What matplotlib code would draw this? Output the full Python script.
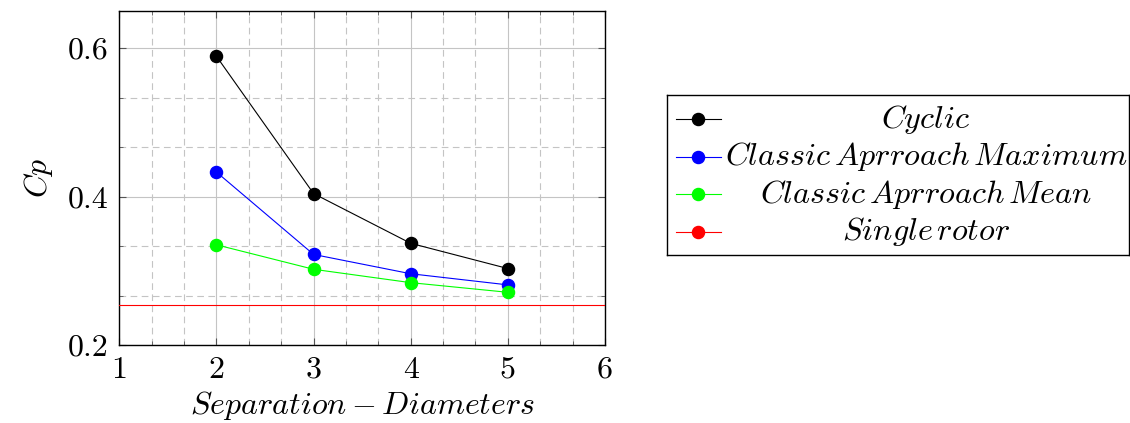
import matplotlib
matplotlib.use("Agg")
import matplotlib.pyplot as plt
from matplotlib.ticker import FixedLocator, FormatStrFormatter

plt.rcParams["mathtext.fontset"] = "cm"
plt.rcParams["font.family"] = "serif"
plt.rcParams["font.serif"] = ["cmr10"]
plt.rcParams["axes.formatter.use_mathtext"] = True

# Data
separation = [2, 3, 4, 5]
cp_cyclic = [0.589, 0.404, 0.337, 0.303]
cp_classic_max = [0.433, 0.322, 0.296, 0.281]
cp_classic_mean = [0.335, 0.302, 0.284, 0.271]
cp_single_rotor = 0.254

labels = [r"$Cyclic$", r"$Classic\,Aprroach\,Maximum$",
          r"$Classic\,Aprroach\,Mean$", r"$Single\,rotor$"]
colors = ["black", "blue", "#00ff00", "red"]

x_ticks = [1, 2, 3, 4, 5, 6]
y_ticks = [0.2, 0.4, 0.6]

FS = 23
FS_LEG = 23.2
W, H = 1130, 423
fig = plt.figure(figsize=(W / 100, H / 100), dpi=100)

ax = fig.add_axes([119.3 / W, 1 - 345 / H, (605 - 119.3) / W, (345 - 11) / H])
ax.set_xlim(1, 6)
ax.set_ylim(0.2, 0.65)

ax.xaxis.set_major_locator(FixedLocator(x_ticks))
ax.yaxis.set_major_locator(FixedLocator(y_ticks))
ax.xaxis.set_minor_locator(FixedLocator([1 + i / 3 for i in range(16)]))
ax.yaxis.set_minor_locator(FixedLocator([0.2 + i * 0.2 / 3 for i in range(8)]))
ax.xaxis.set_major_formatter(FormatStrFormatter("%d"))
ax.yaxis.set_major_formatter(FormatStrFormatter("%.1f"))

ax.grid(which="major", color="#c4c4c4", linewidth=0.8, linestyle="-")
ax.grid(which="minor", color="#c4c4c4", linewidth=0.8, linestyle=(0, (6, 4)))
ax.set_axisbelow(True)

ax.tick_params(which="both", direction="in", top=True, right=True,
               labelsize=FS, color="#555555")
ax.tick_params(which="major", length=5, width=0.8, pad=8)
ax.tick_params(which="minor", length=3, width=0.6)
for s in ax.spines.values():
    s.set_linewidth(1.0)

series = [cp_cyclic, cp_classic_max, cp_classic_mean]
for ys, c in zip(series, colors[:3]):
    ax.plot(separation, ys, color=c, linewidth=0.8, marker="o",
            markersize=8.7, zorder=3)
ax.axhline(cp_single_rotor, color=colors[3], linewidth=0.8, zorder=3)

ax.set_xlabel(r"$Separation - Diameters$", fontsize=FS, labelpad=4)
ax.set_ylabel(r"$Cp$", fontsize=FS, labelpad=9)

# Legend box
lx0, ly0, lx1, ly1 = 667, 95, 1129, 255
lax = fig.add_axes([lx0 / W, 1 - ly1 / H, (lx1 - lx0) / W, (ly1 - ly0) / H])
lax.set_xlim(0, lx1 - lx0)
lax.set_ylim(ly1 - ly0, 0)
lax.set_xticks([])
lax.set_yticks([])
for s in lax.spines.values():
    s.set_linewidth(1.0)
row_y = [24.3, 61.7, 99, 136.7]
for lab, c, yy in zip(labels, colors, row_y):
    lax.plot([9, 54], [yy, yy], color=c, linewidth=0.8)
    lax.plot([31.3], [yy], color=c, marker="o", markersize=8.7)
    lax.text(259, yy, lab, fontsize=FS_LEG, ha="center", va="center")

fig.savefig("out.png", dpi=100)
